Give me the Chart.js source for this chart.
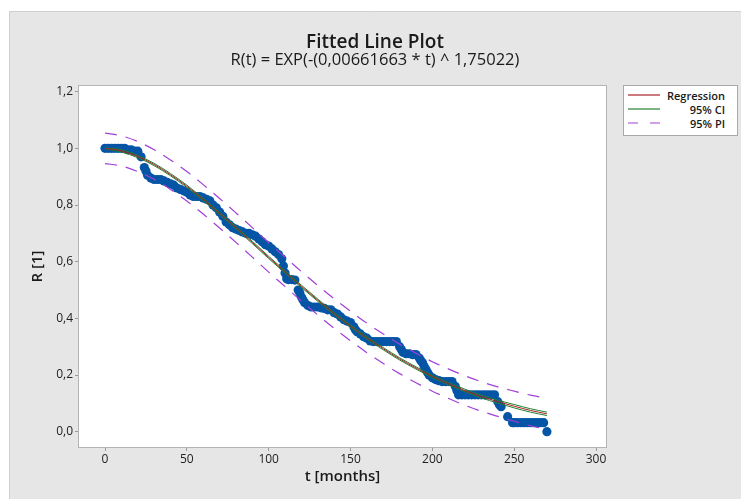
<!DOCTYPE html>
<html>
<head>
<meta charset="utf-8">
<script src="https://cdn.jsdelivr.net/npm/chart.js@4.4.1/dist/chart.umd.min.js"></script>
<style>
  html, body { margin: 0; padding: 0; background: #fff; }
  #wrap { position: relative; width: 741px; height: 499px; }
  #legend {
    position: absolute; left: 623px; top: 85px; width: 113px;
    border: 1px solid #a9a9a9; background: #fff;
    padding: 2px 0 5px 0;
    font-family: "Open Sans", sans-serif; font-size: 11px; font-weight: 600; color: #1a1a1a;
  }
  #legend .row {
    display: flex; align-items: center; justify-content: space-between;
    height: 14px; padding: 0 12px 0 4px;
  }
  #legend svg { display: block; }
</style>
</head>
<body>
<div id="wrap">
  <canvas id="fitChart" width="741" height="499"></canvas>
  <div id="legend"></div>
</div>
<script>
// observed reliability values
var dataT = [0, 2, 4, 6, 8, 10, 12, 14, 16, 18, 20, 22, 24, 25, 26, 28, 30, 32, 34, 36, 38,
  40, 42, 44, 46, 48, 50, 52, 54, 56, 58, 60, 62, 64, 66, 68, 70, 72, 74, 76, 78,
  80, 82, 84, 86, 88, 90, 92, 94, 96, 98, 100, 102, 104, 106, 108, 109, 110, 111, 112, 114,
  116, 118, 119, 120, 121, 122, 124, 126, 128, 130, 132, 134, 136, 138, 140, 142, 144, 146, 148, 150,
  152, 153, 154, 156, 158, 160, 162, 164, 166, 168, 170, 172, 174, 176, 178, 180, 181, 182, 184, 186,
  188, 190, 192, 193, 194, 195, 196, 197, 198, 200, 202, 204, 206, 208, 210, 212, 214, 215, 216, 218,
  220, 222, 224, 226, 228, 230, 232, 234, 236, 238, 240, 241, 242, 246, 249, 250, 252, 254, 256, 258,
  260, 262, 264, 266, 268, 270];
var dataR = [1.0, 1.0, 1.0, 1.0, 1.0, 1.0, 1.0, 0.995, 0.995, 0.99, 0.99, 0.97, 0.932, 0.92, 0.905, 0.895, 0.89, 0.89, 0.89, 0.885, 0.88,
  0.875, 0.87, 0.86, 0.855, 0.85, 0.845, 0.835, 0.83, 0.83, 0.83, 0.825, 0.82, 0.815, 0.80, 0.79, 0.775, 0.76, 0.74, 0.73, 0.72,
  0.715, 0.71, 0.705, 0.70, 0.70, 0.695, 0.69, 0.68, 0.67, 0.66, 0.655, 0.645, 0.635, 0.625, 0.61, 0.585, 0.56, 0.54, 0.537, 0.537,
  0.535, 0.50, 0.49, 0.475, 0.465, 0.455, 0.445, 0.44, 0.44, 0.44, 0.437, 0.435, 0.43, 0.43, 0.42, 0.415, 0.405, 0.395, 0.39, 0.385,
  0.37, 0.36, 0.353, 0.345, 0.335, 0.33, 0.32, 0.318, 0.318, 0.318, 0.318, 0.318, 0.318, 0.318, 0.318, 0.30, 0.29, 0.28, 0.275, 0.275,
  0.272, 0.272, 0.26, 0.25, 0.243, 0.23, 0.22, 0.21, 0.20, 0.19, 0.184, 0.18, 0.177, 0.177, 0.177, 0.177, 0.16, 0.145, 0.13, 0.13,
  0.13, 0.13, 0.13, 0.13, 0.13, 0.13, 0.13, 0.13, 0.13, 0.13, 0.106, 0.095, 0.088, 0.053, 0.032, 0.032, 0.032, 0.032, 0.032, 0.032,
  0.032, 0.032, 0.032, 0.032, 0.032, 0.0];

// fitted curve and bands, read at 10 month steps
var fitT = [0, 10, 20, 30, 40, 50, 60, 70, 80, 90, 100, 110, 120, 130, 140, 150, 160, 170, 180, 190, 200, 210, 220, 230, 240, 250, 260, 270];
var fitR = [1.0, 0.991, 0.971, 0.943, 0.907, 0.866, 0.820, 0.771, 0.720, 0.668, 0.615, 0.564, 0.513, 0.464, 0.417, 0.373, 0.331, 0.293, 0.257, 0.225, 0.195, 0.169, 0.145, 0.124, 0.106, 0.090, 0.075, 0.063];
var ciUpper = [1.002, 0.995, 0.975, 0.947, 0.911, 0.870, 0.824, 0.775, 0.724, 0.672, 0.619, 0.568, 0.517, 0.468, 0.421, 0.377, 0.335, 0.297, 0.261, 0.229, 0.199, 0.173, 0.150, 0.129, 0.111, 0.096, 0.081, 0.069];
var ciLower = [0.998, 0.987, 0.967, 0.939, 0.903, 0.862, 0.816, 0.767, 0.716, 0.664, 0.611, 0.560, 0.509, 0.460, 0.413, 0.369, 0.327, 0.289, 0.253, 0.221, 0.191, 0.165, 0.141, 0.119, 0.101, 0.084, 0.069, 0.057];
var piUpper = [1.054, 1.044, 1.024, 0.995, 0.959, 0.918, 0.872, 0.823, 0.772, 0.720, 0.667, 0.616, 0.565, 0.516, 0.469, 0.425, 0.383, 0.345, 0.309, 0.277, 0.247, 0.221, 0.197, 0.176, 0.158, 0.143, 0.129, 0.118];
var piLower = [0.946, 0.938, 0.918, 0.891, 0.855, 0.814, 0.768, 0.719, 0.668, 0.616, 0.563, 0.512, 0.461, 0.412, 0.365, 0.321, 0.279, 0.241, 0.205, 0.173, 0.143, 0.117, 0.093, 0.072, 0.054, 0.037, 0.021, 0.008];

var xTicks = [0, 50, 100, 150, 200, 250, 300];
var yTicks = [0, 0.2, 0.4, 0.6, 0.8, 1.0, 1.2];
var yTickLabels = ['0,0', '0,2', '0,4', '0,6', '0,8', '1,0', '1,2'];

function pairs(xs, ys) {
  return xs.map(function (x, i) { return { x: x, y: ys[i] }; });
}

var FONT = '"Open Sans", sans-serif';
var cRed = '#a8232a', cGreen = '#23802f', cPurple = '#a33fd8', cBlue = '#0555a6';

var panelBg = {
  id: 'panelBg',
  beforeDraw: function (chart) {
    var ctx = chart.ctx, a = chart.chartArea;
    ctx.save();
    ctx.fillStyle = '#e6e6e6';
    ctx.fillRect(9, 11, chart.width - 9, chart.height - 11);
    ctx.strokeStyle = '#cfcfcf';
    ctx.lineWidth = 1;
    ctx.beginPath();
    ctx.moveTo(9.5, chart.height);
    ctx.lineTo(9.5, 11.5);
    ctx.lineTo(chart.width, 11.5);
    ctx.stroke();
    ctx.fillStyle = '#ffffff';
    ctx.fillRect(a.left, a.top, a.right - a.left, a.bottom - a.top);
    ctx.restore();
  },
  beforeDatasetsDraw: function (chart) {
    var ctx = chart.ctx, a = chart.chartArea;
    ctx.save();
    ctx.strokeStyle = '#b4b4b4';
    ctx.lineWidth = 1;
    ctx.strokeRect(Math.round(a.left) - 0.5, Math.round(a.top) - 0.5,
      Math.round(a.right - a.left) + 1, Math.round(a.bottom - a.top) + 1);
    ctx.restore();
  }
};

function lineSet(label, ys, color, width, dash, legendText, order) {
  return {
    label: label,
    legendText: legendText,
    data: pairs(fitT, ys),
    showLine: true,
    borderColor: color,
    backgroundColor: color,
    borderWidth: width,
    borderDash: dash,
    pointRadius: 0,
    cubicInterpolationMode: 'monotone',
    order: order
  };
}

var chart = new Chart(document.getElementById('fitChart'), {
  type: 'scatter',
  data: {
    datasets: [
      lineSet('Regression', fitR, cRed, 1, [], 'Regression', 1),
      lineSet('95% CI upper', ciUpper, cGreen, 1, [], '95% CI', 2),
      lineSet('95% CI lower', ciLower, cGreen, 1, [], null, 2),
      lineSet('95% PI upper', piUpper, cPurple, 1.2, [12, 9], '95% PI', 3),
      lineSet('95% PI lower', piLower, cPurple, 1.2, [12, 9], null, 3),
      {
        label: 'R',
        data: pairs(dataT, dataR),
        pointRadius: 4.6,
        pointHoverRadius: 4.6,
        backgroundColor: cBlue,
        borderWidth: 0,
        order: 10
      }
    ]
  },
  options: {
    responsive: false,
    animation: false,
    events: [],
    layout: { padding: { left: 9, top: 11, right: 0, bottom: 0 } },
    plugins: {
      legend: { display: false },
      tooltip: { enabled: false },
      title: {
        display: true,
        text: 'Fitted Line Plot',
        color: '#1a1a1a',
        font: { family: FONT, size: 19, weight: '600', lineHeight: 1 },
        padding: { top: 22, bottom: 0 }
      },
      subtitle: {
        display: true,
        text: 'R(t) = EXP(-(0,00661663 * t) ^ 1,75022)',
        color: '#1a1a1a',
        font: { family: FONT, size: 16.5, lineHeight: 1 },
        padding: { top: 0, bottom: 17.5 }
      }
    },
    scales: {
      x: {
        type: 'linear',
        min: -15.9,
        max: 306.1,
        afterFit: function (s) { s.height = 52; },
        afterBuildTicks: function (s) { s.ticks = xTicks.map(function (v) { return { value: v }; }); },
        border: { display: false },
        grid: { drawOnChartArea: false, drawTicks: true, tickLength: 4, color: '#9a9a9a' },
        ticks: { padding: 1, color: '#222', font: { family: FONT, size: 12 }, maxRotation: 0 },
        title: {
          display: true, text: 't [months]', color: '#1a1a1a',
          font: { family: FONT, size: 15, weight: '600' },
          padding: { top: 0, bottom: 13 }
        }
      },
      y: {
        type: 'linear',
        min: -0.054,
        max: 1.22,
        afterFit: function (s) { s.width = 70; },
        afterBuildTicks: function (s) { s.ticks = yTicks.map(function (v) { return { value: v }; }); },
        border: { display: false },
        grid: { drawOnChartArea: false, drawTicks: true, tickLength: 4, color: '#9a9a9a' },
        ticks: {
          padding: 2, color: '#222', font: { family: FONT, size: 12 },
          callback: function (v) {
            var i = yTicks.indexOf(Math.round(v * 10) / 10);
            return i >= 0 ? yTickLabels[i] : '';
          }
        },
        title: {
          display: true, text: 'R [1]', color: '#1a1a1a',
          font: { family: FONT, size: 15, weight: '600' },
          padding: { top: 20, bottom: 0 }
        }
      },
      // empty column on the right that leaves room for the legend box
      side: {
        type: 'linear',
        position: 'right',
        afterFit: function (s) { s.width = 135; },
        border: { display: false },
        grid: { display: false },
        ticks: { display: false }
      }
    }
  },
  plugins: [panelBg]
});

var legendEl = document.getElementById('legend');
chart.data.datasets.forEach(function (ds) {
  if (!ds.legendText) return;
  var dash = ds.borderDash && ds.borderDash.length ? ' stroke-dasharray="10 12"' : '';
  var row = document.createElement('div');
  row.className = 'row';
  row.innerHTML = '<svg width="32" height="4"><line x1="0" y1="2" x2="32" y2="2" stroke="' +
    ds.borderColor + '" stroke-width="1.2"' + dash + '/></svg><span>' + ds.legendText + '</span>';
  legendEl.appendChild(row);
});
</script>
</body>
</html>
